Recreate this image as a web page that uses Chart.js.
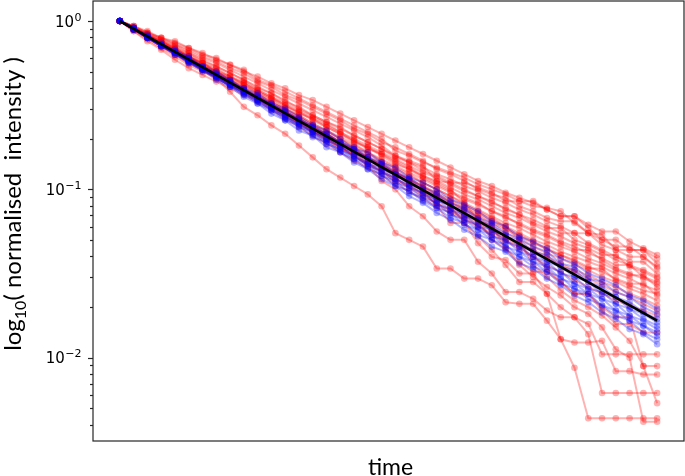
<!DOCTYPE html>
<html>
<head>
<meta charset="utf-8">
<script src="https://cdn.jsdelivr.net/npm/chart.js@4.4.1/dist/chart.umd.min.js"></script>
<style>
  html, body { margin: 0; padding: 0; background: #fff; }
</style>
</head>
<body>
<canvas id="decay" width="685" height="476"></canvas>
<script>
// time steps (no tick labels on the x axis)
const times = [0, 1, 2, 3, 4, 5, 6, 7, 8, 9, 10, 11, 12, 13, 14, 15, 16, 17, 18, 19,
               20, 21, 22, 23, 24, 25, 26, 27, 28, 29, 30, 31, 32, 33, 34, 35, 36, 37, 38, 39];

// red traces, log10 of normalised intensity
const redLog10 = [
  [0,-0.03,-0.06,-0.10,-0.13,-0.16,-0.20,-0.22,-0.26,-0.29, -0.35,-0.38,-0.42,-0.46,-0.50,-0.54,-0.58,-0.62,-0.66,-0.70, -0.77,-0.80,-0.84,-0.87,-0.90,-0.93,-0.97,-1.00,-1.03,-1.07, -1.10,-1.11,-1.13,-1.20,-1.26,-1.27,-1.36,-1.36,-1.36,-1.41],
  [0,-0.04,-0.07,-0.11,-0.14,-0.18,-0.22,-0.25,-0.29,-0.33, -0.37,-0.41,-0.45,-0.49,-0.53,-0.57,-0.61,-0.65,-0.69,-0.74, -0.80,-0.83,-0.86,-0.95,-0.96,-0.96,-0.99,-1.02,-1.07,-1.07, -1.07,-1.12,-1.16,-1.16,-1.23,-1.30,-1.30,-1.36,-1.36,-1.44],
  [0,-0.04,-0.08,-0.12,-0.15,-0.19,-0.23,-0.27,-0.31,-0.35, -0.39,-0.43,-0.47,-0.52,-0.56,-0.60,-0.64,-0.68,-0.72,-0.76, -0.80,-0.84,-0.87,-0.91,-0.94,-0.98,-1.01,-1.05,-1.08,-1.12, -1.15,-1.19,-1.22,-1.26,-1.26,-1.33,-1.36,-1.40,-1.40,-1.47],
  [0,-0.04,-0.09,-0.12,-0.17,-0.20,-0.25,-0.28,-0.33,-0.36, -0.41,-0.45,-0.49,-0.53,-0.57,-0.61,-0.66,-0.70,-0.74,-0.78, -0.82,-0.86,-0.90,-0.93,-0.97,-1.01,-1.04,-1.08,-1.11,-1.15, -1.18,-1.22,-1.26,-1.26,-1.32,-1.36,-1.40,-1.43,-1.43,-1.50],
  [0,-0.05,-0.08,-0.13,-0.16,-0.21,-0.25,-0.30,-0.33,-0.38, -0.42,-0.46,-0.51,-0.54,-0.59,-0.63,-0.67,-0.71,-0.76,-0.79, -0.84,-0.88,-0.92,-0.95,-0.99,-1.03,-1.06,-1.10,-1.14,-1.17, -1.21,-1.25,-1.28,-1.32,-1.35,-1.39,-1.39,-1.46,-1.49,-1.53],
  [0,-0.04,-0.09,-0.12,-0.17,-0.21,-0.26,-0.30,-0.35,-0.38, -0.43,-0.47,-0.52,-0.56,-0.61,-0.65,-0.69,-0.73,-0.78,-0.82, -0.86,-0.90,-0.94,-0.98,-1.02,-1.06,-1.09,-1.13,-1.17,-1.20, -1.24,-1.27,-1.31,-1.34,-1.38,-1.41,-1.45,-1.45,-1.52,-1.55],
  [0,-0.05,-0.09,-0.14,-0.18,-0.22,-0.27,-0.31,-0.35,-0.40, -0.44,-0.48,-0.53,-0.57,-0.62,-0.66,-0.70,-0.75,-0.79,-0.84, -0.88,-0.92,-0.96,-1.00,-1.04,-1.08,-1.12,-1.16,-1.20,-1.23, -1.27,-1.31,-1.34,-1.37,-1.41,-1.44,-1.48,-1.51,-1.51,-1.58],
  [0,-0.04,-0.10,-0.13,-0.19,-0.23,-0.27,-0.32,-0.36,-0.41, -0.45,-0.49,-0.54,-0.59,-0.63,-0.68,-0.72,-0.77,-0.81,-0.86, -0.90,-0.94,-0.98,-1.02,-1.06,-1.10,-1.14,-1.18,-1.22,-1.26, -1.30,-1.33,-1.37,-1.40,-1.43,-1.46,-1.50,-1.53,-1.57,-1.60],
  [0,-0.05,-0.10,-0.14,-0.19,-0.24,-0.28,-0.33,-0.37,-0.42, -0.46,-0.51,-0.55,-0.60,-0.64,-0.69,-0.74,-0.78,-0.83,-0.87, -0.92,-0.96,-1.00,-1.04,-1.08,-1.12,-1.16,-1.20,-1.24,-1.28, -1.32,-1.35,-1.39,-1.42,-1.46,-1.49,-1.53,-1.56,-1.56,-1.63],
  [0,-0.05,-0.10,-0.15,-0.20,-0.25,-0.29,-0.34,-0.38,-0.43, -0.47,-0.52,-0.57,-0.61,-0.66,-0.71,-0.76,-0.80,-0.85,-0.89, -0.94,-0.98,-1.02,-1.06,-1.10,-1.14,-1.18,-1.22,-1.26,-1.30, -1.34,-1.38,-1.41,-1.45,-1.48,-1.52,-1.55,-1.59,-1.62,-1.66],
  [0,-0.06,-0.11,-0.16,-0.21,-0.26,-0.30,-0.34,-0.38,-0.42, -0.46,-0.51,-0.56,-0.60,-0.65,-0.70,-0.75,-0.80,-0.85,-0.90, -0.95,-0.99,-1.04,-1.08,-1.12,-1.16,-1.20,-1.24,-1.28,-1.32, -1.36,-1.40,-1.44,-1.48,-1.51,-1.55,-1.58,-1.62,-1.65,-1.69],
  [0,-0.06,-0.12,-0.17,-0.23,-0.28,-0.32,-0.36,-0.40,-0.44, -0.48,-0.53,-0.58,-0.63,-0.68,-0.73,-0.78,-0.83,-0.87,-0.92, -0.97,-1.01,-1.06,-1.10,-1.14,-1.18,-1.22,-1.26,-1.29,-1.33, -1.37,-1.41,-1.45,-1.49,-1.53,-1.57,-1.61,-1.64,-1.68,-1.72],
  [0,-0.03,-0.07,-0.10,-0.14,-0.17,-0.21,-0.24,-0.28,-0.31, -0.36,-0.39,-0.44,-0.47,-0.51,-0.55,-0.59,-0.64,-0.67,-0.72, -0.75,-0.79,-0.83,-0.88,-0.91,-0.95,-1.00,-1.03,-1.05,-1.10, -1.13,-1.17,-1.19,-1.19,-1.26,-1.30,-1.34,-1.34,-1.40,-1.46],
  [0,-0.04,-0.08,-0.11,-0.16,-0.19,-0.24,-0.27,-0.31,-0.35, -0.40,-0.43,-0.48,-0.51,-0.56,-0.60,-0.63,-0.68,-0.72,-0.76, -0.81,-0.84,-0.89,-0.92,-0.96,-1.00,-1.04,-1.07,-1.12,-1.15, -1.20,-1.23,-1.23,-1.30,-1.33,-1.37,-1.42,-1.45,-1.48,-1.52],
  [0,-0.04,-0.09,-0.13,-0.17,-0.22,-0.25,-0.30,-0.34,-0.37, -0.42,-0.46,-0.50,-0.55,-0.58,-0.63,-0.67,-0.72,-0.75,-0.80, -0.85,-0.88,-0.93,-0.97,-1.01,-1.05,-1.08,-1.13,-1.16,-1.21, -1.25,-1.28,-1.32,-1.36,-1.36,-1.42,-1.47,-1.50,-1.53,-1.56],
  [0,-0.05,-0.09,-0.13,-0.18,-0.23,-0.27,-0.31,-0.36,-0.41, -0.45,-0.50,-0.54,-0.58,-0.63,-0.67,-0.72,-0.76,-0.81,-0.85, -0.89,-0.94,-0.98,-1.03,-1.07,-1.11,-1.15,-1.19,-1.23,-1.27, -1.31,-1.36,-1.39,-1.43,-1.47,-1.47,-1.54,-1.57,-1.60,-1.62],
  [0,-0.03,-0.07,-0.10,-0.12,-0.16,-0.19,-0.23,-0.26,-0.30, -0.33,-0.37,-0.40,-0.44,-0.47,-0.51,-0.55,-0.59,-0.63,-0.67, -0.71,-0.75,-0.79,-0.83,-0.87,-0.91,-0.95,-0.98,-1.02,-1.05, -1.08,-1.12,-1.16,-1.16,-1.21,-1.25,-1.25,-1.31,-1.35,-1.39],
  [0,-0.05,-0.10,-0.15,-0.19,-0.24,-0.29,-0.33,-0.38,-0.42, -0.47,-0.51,-0.56,-0.61,-0.66,-0.70,-0.75,-0.79,-0.84,-0.89, -0.94,-0.98,-1.03,-1.08,-1.13,-1.17,-1.22,-1.27,-1.31,-1.35, -1.40,-1.45,-1.49,-1.54,-1.58,-1.62,-1.66,-1.69,-1.72,-1.75],
  [0,-0.05,-0.10,-0.15,-0.20,-0.24,-0.29,-0.34,-0.42,-0.51, -0.56,-0.62,-0.67,-0.74,-0.81,-0.88,-0.93,-0.98,-1.03,-1.10, -1.26,-1.30,-1.34,-1.47,-1.47,-1.53,-1.53,-1.57,-1.67,-1.68, -1.68,-1.78,-1.89,-2.06,-2.36,-2.36,-2.36,-2.36,-2.36,-2.36],
  [0,-0.05,-0.09,-0.14,-0.18,-0.23,-0.28,-0.32,-0.37,-0.41, -0.46,-0.51,-0.55,-0.60,-0.65,-0.70,-0.75,-0.80,-0.86,-0.95, -1.00,-1.10,-1.16,-1.25,-1.30,-1.30,-1.43,-1.50,-1.61,-1.61, -1.65,-1.72,-1.76,-1.76,-1.80,-1.98,-1.98,-1.98,-1.98,-1.98],
  [0,-0.04,-0.09,-0.13,-0.18,-0.22,-0.27,-0.31,-0.36,-0.40, -0.45,-0.49,-0.54,-0.58,-0.63,-0.67,-0.72,-0.77,-0.81,-0.86, -0.90,-0.95,-1.00,-1.10,-1.20,-1.20,-1.32,-1.40,-1.42,-1.50, -1.50,-1.62,-1.70,-1.76,-1.86,-2.21,-2.21,-2.21,-2.21,-2.21],
  [0,-0.05,-0.09,-0.14,-0.18,-0.23,-0.27,-0.32,-0.36,-0.41, -0.45,-0.50,-0.55,-0.59,-0.64,-0.68,-0.73,-0.77,-0.82,-0.86, -0.91,-0.96,-1.00,-1.05,-1.10,-1.20,-1.28,-1.36,-1.45,-1.55, -1.55,-1.62,-1.89,-1.91,-1.91,-1.90,-2.08,-2.08,-2.10,-2.10],
  [0,-0.04,-0.09,-0.13,-0.18,-0.22,-0.27,-0.31,-0.36,-0.40, -0.45,-0.49,-0.54,-0.58,-0.63,-0.67,-0.72,-0.76,-0.81,-0.85, -0.90,-0.94,-0.99,-1.03,-1.08,-1.12,-1.17,-1.22,-1.35,-1.45, -1.52,-1.58,-1.63,-1.70,-1.74,-1.82,-1.95,-2.00,-2.38,-2.38],
  [0,-0.04,-0.08,-0.13,-0.17,-0.21,-0.26,-0.30,-0.35,-0.39, -0.43,-0.48,-0.52,-0.56,-0.61,-0.65,-0.70,-0.74,-0.78,-0.83, -0.87,-0.91,-0.96,-1.00,-1.04,-1.09,-1.13,-1.17,-1.22,-1.30, -1.45,-1.52,-1.60,-1.66,-1.70,-1.75,-1.82,-1.90,-2.05,-2.27],
  [0,-0.04,-0.08,-0.12,-0.16,-0.21,-0.25,-0.29,-0.33,-0.37, -0.41,-0.45,-0.50,-0.54,-0.58,-0.62,-0.66,-0.71,-0.75,-0.79, -0.83,-0.87,-0.92,-0.96,-1.00,-1.08,-1.18,-1.30,-1.35,-1.43, -1.49,-1.49,-1.55,-1.62,-1.62,-1.72,-1.80,-1.80,-1.85,-1.85],
  [0,-0.05,-0.09,-0.14,-0.18,-0.23,-0.27,-0.32,-0.37,-0.41, -0.46,-0.50,-0.55,-0.59,-0.64,-0.69,-0.73,-0.78,-0.82,-0.87, -0.92,-0.96,-1.01,-1.05,-1.10,-1.15,-1.19,-1.24,-1.30,-1.34, -1.40,-1.47,-1.55,-1.62,-1.62,-1.70,-1.76,-1.76,-2.05,-2.05]
];

// blue traces, log10 of normalised intensity
const blueLog10 = [
  [0,-0.04,-0.09,-0.14,-0.17,-0.22,-0.27,-0.30,-0.35,-0.40, -0.43,-0.49,-0.52,-0.57,-0.62,-0.65,-0.70,-0.76,-0.78,-0.84, -0.87,-0.93,-0.96,-1.00,-1.06,-1.09,-1.13,-1.19,-1.22,-1.28, -1.31,-1.35,-1.41,-1.44,-1.50,-1.53,-1.57,-1.63,-1.66,-1.71],
  [0,-0.05,-0.08,-0.14,-0.18,-0.21,-0.27,-0.32,-0.35,-0.41, -0.44,-0.50,-0.53,-0.59,-0.62,-0.67,-0.72,-0.75,-0.81,-0.84, -0.90,-0.93,-0.99,-1.02,-1.08,-1.11,-1.17,-1.20,-1.26,-1.29, -1.34,-1.37,-1.44,-1.46,-1.53,-1.55,-1.61,-1.64,-1.70,-1.74],
  [0,-0.04,-0.10,-0.13,-0.19,-0.22,-0.28,-0.31,-0.37,-0.40, -0.46,-0.49,-0.55,-0.58,-0.64,-0.67,-0.73,-0.76,-0.82,-0.85, -0.91,-0.94,-1.01,-1.03,-1.10,-1.12,-1.19,-1.21,-1.28,-1.30, -1.37,-1.39,-1.46,-1.48,-1.55,-1.58,-1.64,-1.67,-1.73,-1.77],
  [0,-0.05,-0.09,-0.15,-0.18,-0.24,-0.27,-0.33,-0.36,-0.42, -0.45,-0.51,-0.54,-0.60,-0.63,-0.70,-0.72,-0.79,-0.81,-0.88, -0.91,-0.97,-1.00,-1.07,-1.09,-1.16,-1.18,-1.25,-1.27,-1.34, -1.37,-1.43,-1.46,-1.52,-1.55,-1.62,-1.64,-1.71,-1.74,-1.79],
  [0,-0.04,-0.10,-0.14,-0.19,-0.23,-0.29,-0.32,-0.38,-0.41, -0.47,-0.50,-0.57,-0.60,-0.66,-0.69,-0.75,-0.78,-0.85,-0.87, -0.94,-0.97,-1.03,-1.06,-1.12,-1.15,-1.22,-1.24,-1.31,-1.34, -1.40,-1.43,-1.50,-1.52,-1.59,-1.61,-1.68,-1.71,-1.77,-1.81],
  [0,-0.05,-0.09,-0.15,-0.18,-0.24,-0.28,-0.33,-0.37,-0.43, -0.46,-0.52,-0.56,-0.62,-0.65,-0.71,-0.74,-0.81,-0.84,-0.90, -0.93,-0.99,-1.02,-1.09,-1.12,-1.18,-1.21,-1.28,-1.30,-1.37, -1.40,-1.46,-1.49,-1.56,-1.59,-1.65,-1.68,-1.75,-1.78,-1.83],
  [0,-0.05,-0.10,-0.14,-0.20,-0.23,-0.29,-0.33,-0.39,-0.42, -0.48,-0.52,-0.58,-0.61,-0.67,-0.71,-0.77,-0.80,-0.86,-0.89, -0.96,-0.99,-1.05,-1.08,-1.15,-1.18,-1.24,-1.27,-1.34,-1.37, -1.43,-1.46,-1.53,-1.56,-1.62,-1.65,-1.72,-1.75,-1.81,-1.85],
  [0,-0.04,-0.10,-0.15,-0.19,-0.25,-0.28,-0.34,-0.38,-0.44, -0.47,-0.53,-0.57,-0.63,-0.66,-0.73,-0.76,-0.82,-0.85,-0.92, -0.95,-1.02,-1.05,-1.11,-1.14,-1.21,-1.24,-1.30,-1.33,-1.40, -1.43,-1.49,-1.52,-1.59,-1.62,-1.69,-1.72,-1.78,-1.81,-1.87],
  [0,-0.05,-0.10,-0.14,-0.20,-0.24,-0.30,-0.33,-0.39,-0.43, -0.49,-0.53,-0.59,-0.62,-0.69,-0.72,-0.78,-0.82,-0.88,-0.91, -0.98,-1.01,-1.07,-1.11,-1.17,-1.20,-1.27,-1.30,-1.36,-1.40, -1.46,-1.49,-1.56,-1.59,-1.65,-1.69,-1.75,-1.78,-1.85,-1.89],
  [0,-0.05,-0.10,-0.15,-0.19,-0.25,-0.29,-0.35,-0.39,-0.45, -0.49,-0.55,-0.59,-0.65,-0.68,-0.75,-0.78,-0.84,-0.88,-0.94, -0.98,-1.04,-1.08,-1.14,-1.18,-1.24,-1.28,-1.34,-1.37,-1.44, -1.47,-1.53,-1.57,-1.63,-1.67,-1.73,-1.77,-1.83,-1.86,-1.92]
];

// black reference decay (straight on the log axis)
const fitTimes = [0, 39];
const fitValues = [1.0, 0.0166];

// y axis ticks: majors get a 10^n label, minors only a mark
const yMajorTicks = [0.01, 0.1, 1];
const yTickExponents = ['\u22122', '\u22121', '0'];
const yMinorTicks = [0.004, 0.005, 0.006, 0.007, 0.008, 0.009,
                     0.02, 0.03, 0.04, 0.05, 0.06, 0.07, 0.08, 0.09,
                     0.2, 0.3, 0.4, 0.5, 0.6, 0.7, 0.8, 0.9];

const xTitle = 'time';
const yTitleParts = ['log', '10', '( normalised  intensity )'];

//turn a log10 trace into points for the log axis
const toPoints = (logs) => logs.map((v, i) => ({ x: times[i], y: Math.pow(10, v) }));

const traceStyle = (color) => ({
  borderColor: color,
  backgroundColor: color,
  pointBackgroundColor: color,
  pointBorderWidth: 0,
  pointRadius: 3.3,
  borderWidth: 2,
  borderJoinStyle: 'round',
  fill: false
});

// lower order is drawn on top: black, then blue, then red underneath
const datasets = [];
datasets.push({
  data: fitTimes.map((t, i) => ({ x: t, y: fitValues[i] })),
  borderColor: '#000',
  borderWidth: 2.6,
  pointRadius: 0,
  order: 0
});
blueLog10.forEach(trace => datasets.push({ data: toPoints(trace), ...traceStyle('rgba(0,0,255,0.3)'), order: 1 }));
redLog10.forEach(trace => datasets.push({ data: toPoints(trace), ...traceStyle('rgba(255,0,0,0.3)'), order: 2 }));

//frame, tick marks, tick labels and axis titles in the matplotlib way
const axesDecor = {
  id: 'axesDecor',
  afterDraw(chart) {
    const { ctx, chartArea: a } = chart;
    const y = chart.scales.y;
    ctx.save();
    ctx.strokeStyle = '#262626';
    ctx.lineWidth = 1.2;
    y.ticks.forEach(t => {
      const py = Math.round(y.getPixelForValue(t.value)) + 0.5;
      const len = yMajorTicks.includes(t.value) ? 5 : 3;
      ctx.beginPath();
      ctx.moveTo(a.left - len, py);
      ctx.lineTo(a.left, py);
      ctx.stroke();
    });
    ctx.strokeRect(a.left, a.top, a.right - a.left, a.bottom - a.top);

    // 10^n labels with a raised exponent
    ctx.fillStyle = '#000';
    ctx.textBaseline = 'alphabetic';
    ctx.textAlign = 'left';
    yMajorTicks.forEach((v, i) => {
      const py = y.getPixelForValue(v);
      ctx.font = '15px "DejaVu Sans"';
      const wBase = ctx.measureText('10').width;
      ctx.font = '11px "DejaVu Sans"';
      const wExp = ctx.measureText(yTickExponents[i]).width;
      const x0 = a.left - 12 - wBase - wExp;
      ctx.font = '15px "DejaVu Sans"';
      ctx.fillText('10', x0, py + 5.5);
      ctx.font = '11px "DejaVu Sans"';
      ctx.fillText(yTickExponents[i], x0 + wBase + 0.5, py - 0.5);
    });

    ctx.font = '23px Lato';
    ctx.textAlign = 'center';
    ctx.fillText(xTitle, (a.left + a.right) / 2 + 2, 475);

    // rotated y title with subscript 10
    const sizes = [24, 16, 24];
    const shifts = [0, 5, 0];
    const widths = yTitleParts.map((p, i) => { ctx.font = sizes[i] + 'px Lato'; return ctx.measureText(p).width; });
    const total = widths.reduce((s, w) => s + w, 0);
    ctx.translate(21, 204);
    ctx.rotate(-Math.PI / 2);
    ctx.textAlign = 'left';
    let x = -total / 2;
    yTitleParts.forEach((p, i) => {
      ctx.font = sizes[i] + 'px Lato';
      ctx.fillText(p, x, shifts[i]);
      x += widths[i];
    });
    ctx.restore();
  }
};

new Chart(document.getElementById('decay'), {
  type: 'line',
  data: { datasets },
  plugins: [axesDecor],
  options: {
    responsive: false,
    animation: false,
    events: [],
    layout: { autoPadding: false, padding: { top: 1, right: 1, left: 0, bottom: 0 } },
    plugins: { legend: { display: false }, tooltip: { enabled: false } },
    scales: {
      x: {
        type: 'linear',
        min: -1.95,
        max: 40.95,
        grid: { display: false, drawTicks: false },
        border: { display: false },
        ticks: { display: false },
        afterFit: (s) => { s.height = 35; s.paddingLeft = 0; s.paddingRight = 0; }
      },
      y: {
        type: 'logarithmic',
        min: 0.0032,
        max: 1.315,
        grid: { display: false, drawTicks: false, tickLength: 0 },
        border: { display: false },
        afterBuildTicks: (s) => {
          s.ticks = [...yMinorTicks, ...yMajorTicks].sort((a, b) => a - b).map(v => ({ value: v }));
        },
        ticks: { display: false },
        afterFit: (s) => { s.width = 93; s.paddingTop = 0; s.paddingBottom = 0; }
      }
    }
  }
});
</script>
</body>
</html>
